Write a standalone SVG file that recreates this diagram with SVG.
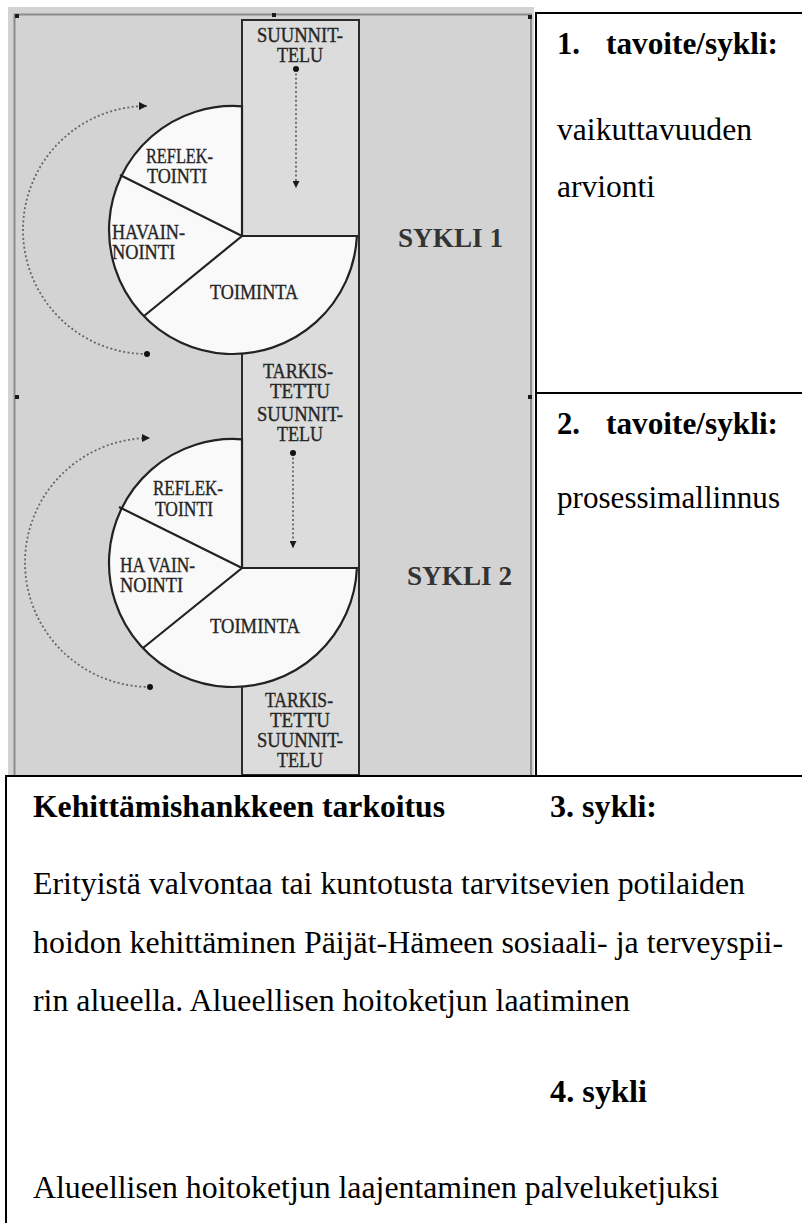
<svg xmlns="http://www.w3.org/2000/svg" width="802" height="1223" viewBox="0 0 802 1223">
  <style>
    .panel { fill: #ffffff; stroke: #000000; stroke-width: 2; }
    .bg { fill: #d3d3d3; }
    .frame { fill: none; stroke: #8c8c8c; stroke-width: 2; }
    .column { fill: #dcdcdc; stroke: #2b2b2b; stroke-width: 2; }
    .pie { fill: #f9f9f9; stroke: #222222; stroke-width: 2.2; }
    .divider { stroke: #222222; stroke-width: 2.2; fill: none; }
    .lbl { font-family: "Liberation Serif", "Times New Roman", serif; font-size: 20px; fill: #262626; stroke: #262626; stroke-width: 0.35; }
    .cyc { font-family: "Liberation Serif", "Times New Roman", serif; font-size: 28px; font-weight: bold; fill: #333333; }
    .flow { fill: none; stroke: #666666; stroke-width: 1.8; stroke-dasharray: 2 2.4; }
    .txt { font-family: "Liberation Serif", "Times New Roman", serif; font-size: 31px; fill: #000000; }
    .body { font-size: 32px; }
    .bold { font-weight: bold; }
    .handle { fill: #1a1a1a; }
  </style>
  <defs>
    <marker id="arrow-curve" viewBox="0 0 10 10" refX="10" refY="5" markerWidth="12" markerHeight="8" markerUnits="userSpaceOnUse" orient="auto">
      <path d="M0,0 L10,5 L0,10 z" fill="#1a1a1a"/>
    </marker>
    <marker id="arrow-down" viewBox="0 0 10 10" refX="10" refY="5" markerWidth="10" markerHeight="7" markerUnits="userSpaceOnUse" orient="auto">
      <path d="M0,0 L10,5 L0,10 z" fill="#1a1a1a"/>
    </marker>
    <marker id="dot" viewBox="0 0 10 10" refX="5" refY="5" markerWidth="6" markerHeight="6" markerUnits="userSpaceOnUse">
      <circle cx="5" cy="5" r="5" fill="#111111"/>
    </marker>
  </defs>

  <!-- white page -->
  <rect x="0" y="0" width="802" height="1223" fill="#ffffff"/>

  <!-- cycle picture area -->
  <g id="cycle-picture">
    <rect class="bg" x="8" y="7" width="526" height="769"/>
    <path class="frame" d="M14.5,780 L14.5,14.5 L531,14.5 L531,780"/>
    <rect class="handle" x="15" y="14" width="4" height="4"/>
    <rect class="handle" x="272" y="13" width="4" height="4"/>
    <rect class="handle" x="528" y="15" width="4" height="4"/>
    <rect class="handle" x="15" y="395" width="4" height="4"/>
    <rect class="handle" x="528" y="395" width="4" height="4"/>
  </g>

  <!-- planning column running through both cycles -->
  <g id="planning-column">
    <rect class="column" x="242" y="20" width="117" height="755"/>
    <text class="lbl" x="257" y="42" textLength="86" lengthAdjust="spacingAndGlyphs">SUUNNIT-</text>
    <text class="lbl" x="277" y="62" textLength="46" lengthAdjust="spacingAndGlyphs">TELU</text>
  </g>

  <!-- cycle 1 -->
  <g id="cycle-1">
    <path class="pie" d="M242,236 L242,106.3 A124,124 0 1,0 356.9,236 Z"/>
    <path class="divider" d="M120,175 L242,236 L144,316"/>
    <text class="lbl" x="146" y="163" textLength="67" lengthAdjust="spacingAndGlyphs">REFLEK-</text>
    <text class="lbl" x="147" y="183" textLength="60" lengthAdjust="spacingAndGlyphs">TOINTI</text>
    <text class="lbl" x="112" y="239" textLength="73" lengthAdjust="spacingAndGlyphs">HAVAIN-</text>
    <text class="lbl" x="112" y="259" textLength="63" lengthAdjust="spacingAndGlyphs">NOINTI</text>
    <text class="lbl" x="210" y="299" textLength="88" lengthAdjust="spacingAndGlyphs">TOIMINTA</text>
    <text class="cyc" x="398" y="247" textLength="105" lengthAdjust="spacingAndGlyphs">SYKLI 1</text>
  </g>

  <g id="revised-plan-1">
    <text class="lbl" x="263" y="378" textLength="70" lengthAdjust="spacingAndGlyphs">TARKIS-</text>
    <text class="lbl" x="270" y="398" textLength="60" lengthAdjust="spacingAndGlyphs">TETTU</text>
    <text class="lbl" x="257" y="421" textLength="86" lengthAdjust="spacingAndGlyphs">SUUNNIT-</text>
    <text class="lbl" x="277" y="441" textLength="46" lengthAdjust="spacingAndGlyphs">TELU</text>
  </g>

  <!-- cycle 2 -->
  <g id="cycle-2">
    <path class="pie" d="M242,568 L242,439.3 A124,124 0 1,0 356.9,568 Z"/>
    <path class="divider" d="M119,507 L242,568 L143,648"/>
    <text class="lbl" x="153" y="495" textLength="70" lengthAdjust="spacingAndGlyphs">REFLEK-</text>
    <text class="lbl" x="155" y="516" textLength="58" lengthAdjust="spacingAndGlyphs">TOINTI</text>
    <text class="lbl" x="120" y="572" textLength="75" lengthAdjust="spacingAndGlyphs">HA VAIN-</text>
    <text class="lbl" x="120" y="592" textLength="63" lengthAdjust="spacingAndGlyphs">NOINTI</text>
    <text class="lbl" x="210" y="633" textLength="90" lengthAdjust="spacingAndGlyphs">TOIMINTA</text>
    <text class="cyc" x="407" y="585" textLength="105" lengthAdjust="spacingAndGlyphs">SYKLI 2</text>
  </g>

  <g id="revised-plan-2">
    <text class="lbl" x="265" y="707" textLength="68" lengthAdjust="spacingAndGlyphs">TARKIS-</text>
    <text class="lbl" x="270" y="727" textLength="60" lengthAdjust="spacingAndGlyphs">TETTU</text>
    <text class="lbl" x="257" y="747" textLength="86" lengthAdjust="spacingAndGlyphs">SUUNNIT-</text>
    <text class="lbl" x="277" y="767" textLength="46" lengthAdjust="spacingAndGlyphs">TELU</text>
  </g>

  <!-- dotted flow arrows -->
  <g id="connectors">
    <path class="flow" d="M147,354 A124,124 0 0,1 147,106" marker-start="url(#dot)" marker-end="url(#arrow-curve)"/>
    <path class="flow" d="M296,69 L296,188" marker-start="url(#dot)" marker-end="url(#arrow-down)"/>
    <path class="flow" d="M150,687 A125,124.5 0 0,1 150,438" marker-start="url(#dot)" marker-end="url(#arrow-curve)"/>
    <path class="flow" d="M293,453 L293,548" marker-start="url(#dot)" marker-end="url(#arrow-down)"/>
  </g>

  <!-- goals table -->
  <g id="goal-1">
    <rect class="panel" x="536" y="13" width="270" height="380"/>
    <text class="txt bold" x="557" y="54" textLength="23" lengthAdjust="spacingAndGlyphs">1.</text>
    <text class="txt bold" x="606" y="54" textLength="172" lengthAdjust="spacingAndGlyphs">tavoite/sykli:</text>
    <text class="txt" x="557" y="140" textLength="195" lengthAdjust="spacingAndGlyphs">vaikuttavuuden</text>
    <text class="txt" x="557" y="197" textLength="98" lengthAdjust="spacingAndGlyphs">arvionti</text>
  </g>
  <g id="goal-2">
    <rect class="panel" x="536" y="393" width="270" height="383"/>
    <text class="txt bold" x="557" y="434" textLength="23" lengthAdjust="spacingAndGlyphs">2.</text>
    <text class="txt bold" x="606" y="434" textLength="172" lengthAdjust="spacingAndGlyphs">tavoite/sykli:</text>
    <text class="txt" x="557" y="508" textLength="223" lengthAdjust="spacingAndGlyphs">prosessimallinnus</text>
  </g>

  <g id="purpose">
    <rect class="panel" x="6" y="776" width="800" height="452"/>
    <text class="txt body bold" x="33" y="817" textLength="412" lengthAdjust="spacingAndGlyphs">Kehittämishankkeen tarkoitus</text>
    <text class="txt body bold" x="550" y="817" textLength="107" lengthAdjust="spacingAndGlyphs">3. sykli:</text>
    <text class="txt body" x="33" y="894" textLength="712" lengthAdjust="spacingAndGlyphs">Erityistä valvontaa tai kuntotusta tarvitsevien potilaiden</text>
    <text class="txt body" x="33" y="953" textLength="750" lengthAdjust="spacingAndGlyphs">hoidon kehittäminen Päijät-Hämeen sosiaali- ja terveyspii-</text>
    <text class="txt body" x="33" y="1011" textLength="597" lengthAdjust="spacingAndGlyphs">rin alueella. Alueellisen hoitoketjun laatiminen</text>
    <text class="txt body bold" x="550" y="1102" textLength="97" lengthAdjust="spacingAndGlyphs">4. sykli</text>
    <text class="txt body" x="33" y="1198" textLength="686" lengthAdjust="spacingAndGlyphs">Alueellisen hoitoketjun laajentaminen palveluketjuksi</text>
  </g>
</svg>
